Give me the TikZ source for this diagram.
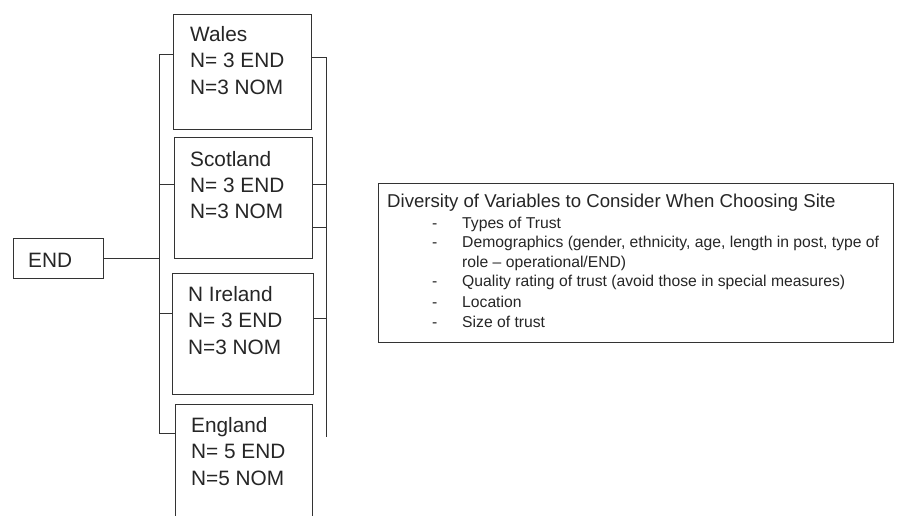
\documentclass[tikz,border=0pt]{standalone}
\usepackage{fontspec}
\setmainfont{Liberation Sans}
\begin{document}
\begin{tikzpicture}[x=1pt,y=-1pt,
  ln/.style={draw=black!80, line width=0.9pt},
  bx/.style={ln, rectangle, inner sep=0pt, anchor=north west},
  big/.style={inner sep=0pt, anchor=base west, text=black!85, font=\fontsize{20.8}{24}\selectfont},
  ttl/.style={inner sep=0pt, anchor=base west, text=black!85, font=\fontsize{18.6}{22}\selectfont},
  itm/.style={inner sep=0pt, anchor=base west, text=black!85, font=\fontsize{15.7}{18}\selectfont}]
\path[use as bounding box, clip] (0,0) rectangle (899,516);
\fill[white] (0,0) rectangle (899,516);

% boxes
\node[bx, minimum width=138pt, minimum height=115pt] (wales) at (173,14) {};
\node[bx, minimum width=138pt, minimum height=121pt] (scot) at (174,137) {};
\node[bx, minimum width=141pt, minimum height=121pt] (nire) at (172,273) {};
\node[bx, minimum width=137pt, minimum height=130pt] (eng) at (175,404) {};
\node[bx, minimum width=90pt, minimum height=40pt] (endb) at (13,238) {};
\node[bx, minimum width=515pt, minimum height=159pt] (div) at (378,183) {};

% box texts
\node[big] (w1) at (190,42) {Wales};
\node[big] (w2) at (190,68) {N= 3 END};
\node[big] (w3) at (190,95) {N=3 NOM};
\node[big] (s1) at (190,166) {Scotland};
\node[big] (s2) at (190,192) {N= 3 END};
\node[big] (s3) at (190,218) {N=3 NOM};
\node[big] (n1) at (188,301) {N Ireland};
\node[big] (n2) at (188,327) {N= 3 END};
\node[big] (n3) at (188,354) {N=3 NOM};
\node[big] (e1) at (191,432) {England};
\node[big] (e2) at (191,458) {N= 5 END};
\node[big] (e3) at (191,485) {N=5 NOM};
\node[big] (endt) at (28,267) {END};

% diversity text
\node[ttl] (dt) at (387,207) {Diversity of Variables to Consider When Choosing Site};
\node[itm] (d1) at (432,228) {-};
\node[itm] (i1) at (462,228) {Types of Trust};
\node[itm] (d2) at (432,247) {-};
\node[itm] (i2) at (462,247) {Demographics (gender, ethnicity, age, length in post, type of};
\node[itm] (i2b) at (462,267) {role -- operational/END)};
\node[itm] (d3) at (432,286) {-};
\node[itm] (i3) at (462,286) {Quality rating of trust (avoid those in special measures)};
\node[itm] (d4) at (432,307) {-};
\node[itm] (i4) at (462,307) {Location};
\node[itm] (d5) at (432,327) {-};
\node[itm] (i5) at (462,327) {Size of trust};

% connector coordinates
\coordinate (lt) at (159,54);
\coordinate (lb) at (159,433);
\coordinate (rt) at (326,57);
\coordinate (rb) at (326,437);

% left spine
\draw[ln] (wales.west |- lt) -- (lt) -- (lb) -- (eng.west |- lb);
\draw[ln] (scot.west |- 0,184) -- (lt |- 0,184);
\draw[ln] (nire.west |- 0,313) -- (lt |- 0,313);
\draw[ln] (endb.east |- 0,258) -- (lt |- 0,258);

% right spine
\draw[ln] (wales.east |- rt) -- (rt) -- (rb);
\draw[ln] (scot.east |- 0,184) -- (rt |- 0,184);
\draw[ln] (scot.east |- 0,227) -- (rt |- 0,227);
\draw[ln] (nire.east |- 0,318) -- (rt |- 0,318);
\end{tikzpicture}
\end{document}
